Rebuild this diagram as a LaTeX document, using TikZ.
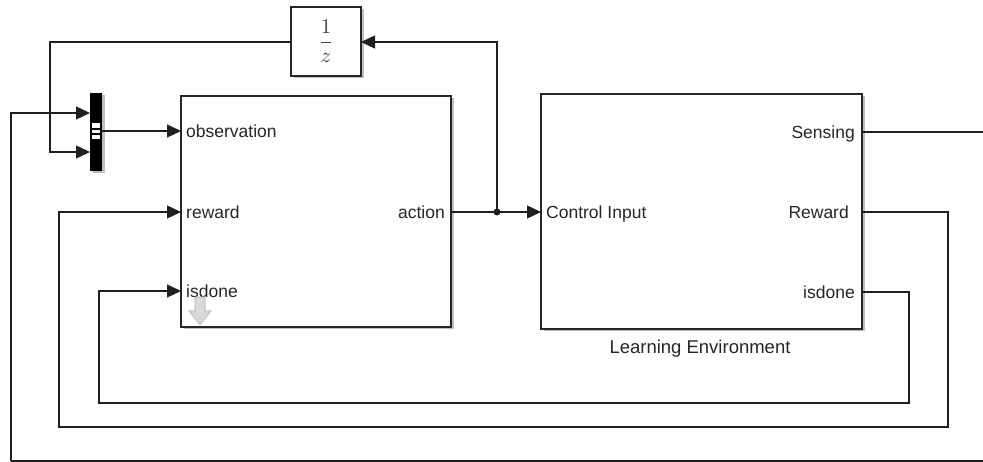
\documentclass[tikz,border=0pt]{standalone}
\usepackage{fontspec}
\setmainfont{Liberation Sans}
\usetikzlibrary{arrows.meta,shadows}
\begin{document}
\begin{tikzpicture}[x=1pt,y=-1pt,
  blockbox/.style={draw=black!85, line width=1.6pt, fill=white, inner sep=0, outer sep=0,
    drop shadow={shadow xshift=2.5pt, shadow yshift=-2.5pt, opacity=0.25, fill=black}},
  portl/.style={inner sep=0, text=black!85, font=\fontsize{17.5}{20}\selectfont},
  sig/.style={draw=black!88, line width=1.3pt},
  sigarr/.style={sig, -{Triangle[length=14pt,width=13pt]}},
  dotb/.style={circle, fill=black!88, inner sep=0, minimum size=7pt}
]
\useasboundingbox (0,0) rectangle (983,462);
% blocks
\node[blockbox, minimum width=270pt, minimum height=231pt, anchor=north west] (agent) at (181,96) {};
\node[blockbox, minimum width=321pt, minimum height=235pt, anchor=north west] (env) at (541,94) {};
\node[blockbox, minimum width=70pt, minimum height=69pt, anchor=north west] (delay) at (291,7)
  {\color{black!75}\scalebox{2.1}{$\displaystyle\frac{1}{z}$}};
\node[fill=black, minimum width=12pt, minimum height=78pt, inner sep=0, outer sep=0, anchor=north west,
  drop shadow={shadow xshift=2.5pt, shadow yshift=-2.5pt, opacity=0.25, fill=black}] (mux) at (90,93) {};
\fill[white] (92,123) rectangle (100,128);
\fill[white] (92,130) rectangle (100,133.5);
\fill[white] (92,135) rectangle (100,139);
% port labels
\node[portl, anchor=base west] (lobs) at (186,137.3) {observation};
\node[portl, anchor=base west] (lrew) at (186,218.3) {reward};
\node[portl, anchor=base west] (lisd) at (186,297.3) {isdone};
\node[portl, anchor=base east] (lact) at (445,218.3) {action};
\node[portl, anchor=base west] (lctl) at (546,218.3) {Control Input};
\node[portl, anchor=base east] (lsen) at (855,138.3) {Sensing};
\node[portl, anchor=base east] (lrw2) at (849,218.3) {Reward};
\node[portl, anchor=base east] (lis2) at (855,298.3) {isdone};
\node[portl, anchor=base, font=\fontsize{18.5}{22}\selectfont] (lenv) at (700,354) {Learning Environment};
% gray indicator arrow
\filldraw[fill=black!15, draw=black!30, line width=0.6pt]
  (195,297) -- (205,297) -- (205,311) -- (211,311) -- (200,325) -- (189,311) -- (195,311) -- cycle;
% port coordinates
\coordinate (agent-obs) at (181,131);
\coordinate (agent-rew) at (181,212);
\coordinate (agent-isd) at (181,291);
\coordinate (agent-act) at (451,212);
\coordinate (env-ctl) at (541,212);
\coordinate (env-sen) at (862,132);
\coordinate (env-rew) at (862,212);
\coordinate (env-isd) at (862,292);
\coordinate (mux-in1) at (90,113);
\coordinate (mux-in2) at (90,152);
\coordinate (mux-out) at (102,131);
\coordinate (branch) at (497,212);
\coordinate (delay-in) at (361,42);
\coordinate (delay-out) at (291,42);
\coordinate (sensE) at (987,132);
\coordinate (sensB) at (987,461);
% connectors
\draw[sigarr] (mux-out) -- (agent-obs);
\draw[sigarr] (agent-act) -- (env-ctl);
\node[dotb] (bdot) at (branch) {};
\draw[sigarr] (bdot.center) -- (497,42) -- (delay-in);
\draw[sigarr] (delay-out) -- (50,42) -- (50,152) -- (mux-in2);
\draw[sig] (env-sen) -- (sensE) -- (sensB) -- (11,461);
\draw[sigarr] (11,461) -- (11,113) -- (mux-in1);
\draw[sigarr] (env-rew) -- (948,212) -- (948,427) -- (59,427) -- (59,212) -- (agent-rew);
\draw[sigarr] (env-isd) -- (909,292) -- (909,403) -- (99,403) -- (99,291) -- (agent-isd);
\end{tikzpicture}
\end{document}
